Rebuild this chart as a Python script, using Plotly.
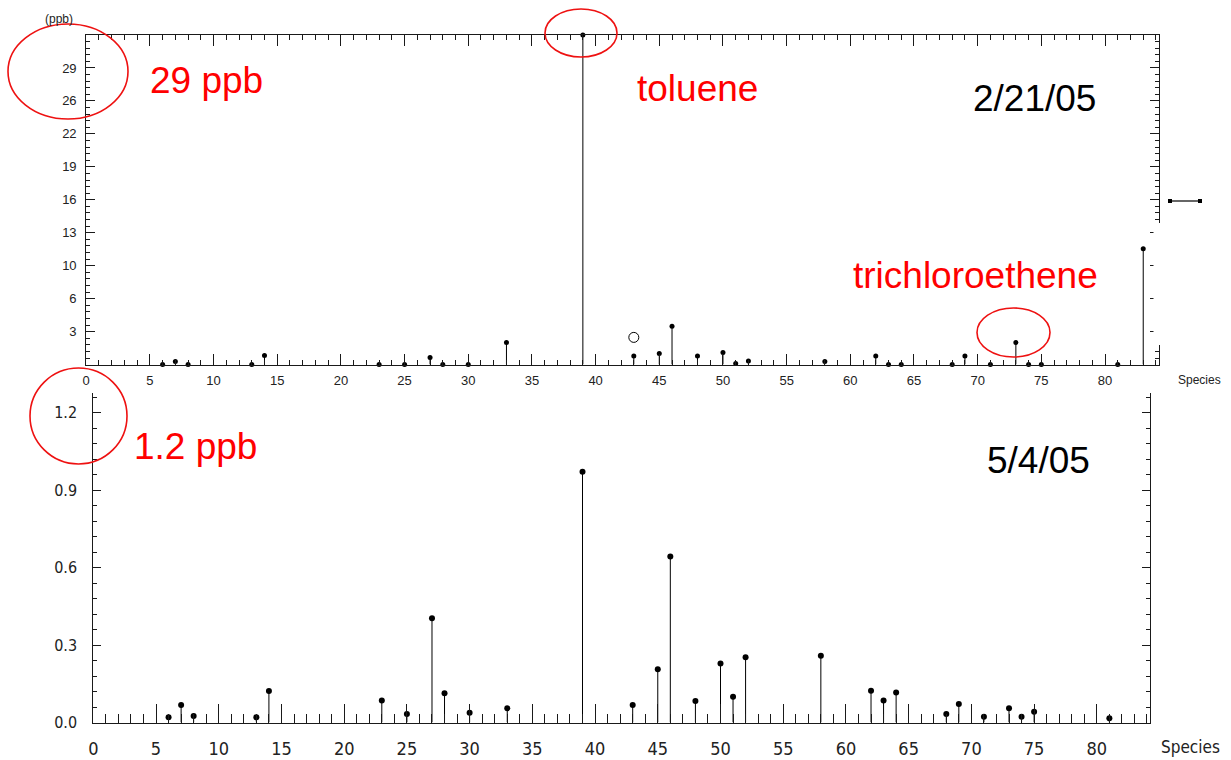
import plotly.graph_objects as go

# ---------------- data ----------------
top_species = [6, 7, 8, 13, 14, 23, 25, 27, 28, 30, 33, 39, 43, 45, 46, 48, 50, 51, 52,
               58, 62, 63, 64, 68, 69, 71, 73, 74, 75, 81, 83]
top_ppb = [0.0, 0.3, 0.0, 0.0, 0.9, 0.0, 0.0, 0.7, 0.0, 0.0, 2.2, 32.7, 0.85, 1.1, 3.8, 0.85, 1.2, 0.1, 0.35,
           0.3, 0.85, 0.0, 0.0, 0.0, 0.85, 0.0, 2.2, 0.0, 0.0, 0.0, 11.5]
top_open_species = [43]
top_open_ppb = [2.7]

bot_species = [6, 7, 8, 13, 14, 23, 25, 27, 28, 30, 33, 39, 43, 45, 46, 48, 50, 51, 52,
               58, 62, 63, 64, 68, 69, 71, 73, 74, 75, 81]
bot_ppb = [0.02, 0.068, 0.025, 0.02, 0.122, 0.085, 0.033, 0.404, 0.113, 0.038, 0.055, 0.972, 0.068, 0.206,
           0.643, 0.083, 0.229, 0.1, 0.253, 0.259, 0.123, 0.085, 0.116, 0.033, 0.072, 0.022, 0.055, 0.022,
           0.042, 0.016]

top_ytick_vals = [3.27, 6.54, 9.81, 13.08, 16.35, 19.62, 22.89, 26.16, 29.43]
top_ytick_text = ["3", "6", "10", "13", "16", "19", "22", "26", "29"]
bot_ytick_vals = [0.0, 0.3, 0.6, 0.9, 1.2]
bot_ytick_text = ["0.0", "0.3", "0.6", "0.9", "1.2"]

# ---------------- layout helpers ----------------
W, H = 1231, 760
def px(x):
    return x / W
def py(y):
    return 1 - y / H

AX = "#1a1a1a"
ARIAL = "Liberation Sans, Arial, sans-serif"
NARROW = "Liberation Sans Narrow, Arial Narrow, DejaVu Sans Condensed, sans-serif"

fig = go.Figure()

# top chart stems + markers
fig.add_trace(go.Scatter(
    x=top_species, y=top_ppb, mode="markers", xaxis="x", yaxis="y",
    marker=dict(symbol="circle", size=5, color="black"),
    error_y=dict(type="data", symmetric=False, array=[0] * len(top_ppb), arrayminus=top_ppb,
                 width=0, thickness=1, color="black"),
    showlegend=False, hoverinfo="x+y", cliponaxis=False))
fig.add_trace(go.Scatter(
    x=top_open_species, y=top_open_ppb, mode="markers", xaxis="x", yaxis="y",
    marker=dict(symbol="circle-open", size=10, color="black", line=dict(width=1)),
    showlegend=False))

# bottom chart stems + markers
fig.add_trace(go.Scatter(
    x=bot_species, y=bot_ppb, mode="markers", xaxis="x2", yaxis="y2",
    marker=dict(symbol="circle", size=6, color="black"),
    error_y=dict(type="data", symmetric=False, array=[0] * len(bot_ppb), arrayminus=bot_ppb,
                 width=0, thickness=1, color="black"),
    showlegend=False, cliponaxis=False))

common_x = dict(range=[0, 84.2], tickmode="linear", tick0=0, dtick=5, showgrid=False, zeroline=False,
                showline=True, linecolor=AX, linewidth=1, ticks="inside", tickcolor=AX, tickwidth=1,
                fixedrange=True, automargin=False)

fig.update_layout(
    width=W, height=H, margin=dict(l=0, r=0, t=0, b=0, pad=0, autoexpand=False),
    paper_bgcolor="white", plot_bgcolor="white",
    xaxis=dict(common_x, domain=[px(86.2), px(1158.5)], anchor="y", mirror="ticks", ticklen=11,
               minor=dict(dtick=1, tick0=0, ticklen=5, ticks="inside", tickcolor=AX),
               tickfont=dict(family=ARIAL, size=13, color="#222"), ticklabelstandoff=4),
    yaxis=dict(domain=[py(364.6), py(35)], anchor="x", range=[0, 32.7], tickmode="array",
               tickvals=top_ytick_vals, ticktext=top_ytick_text, showgrid=False, zeroline=False,
               showline=True, linecolor=AX, linewidth=1, mirror="ticks", ticks="inside", ticklen=9,
               tickcolor=AX, minor=dict(tickmode="linear", tick0=0, dtick=0.654, ticklen=4,
                                        ticks="inside", tickcolor=AX),
               tickfont=dict(family=ARIAL, size=13, color="#222"), ticklabelstandoff=6,
               fixedrange=True, automargin=False),
    xaxis2=dict(common_x, domain=[px(93.3), px(1149.5)], anchor="y2", mirror=False, ticklen=19,
                minor=dict(dtick=1, tick0=0, ticklen=9, ticks="inside", tickcolor=AX),
                tickfont=dict(family=NARROW, size=18, color="#222"), ticklabelstandoff=10),
    yaxis2=dict(domain=[py(722.5), py(393)], anchor="x2", range=[0, 1.277], tickmode="array",
                tickvals=bot_ytick_vals, ticktext=bot_ytick_text, showgrid=False, zeroline=False,
                showline=True, linecolor=AX, linewidth=1, mirror="ticks", ticks="inside", ticklen=8,
                tickcolor=AX, minor=dict(tickmode="linear", tick0=0, dtick=0.06, ticklen=4,
                                         ticks="inside", tickcolor=AX),
                tickfont=dict(family=NARROW, size=16, color="#222"), ticklabelstandoff=12,
                fixedrange=True, automargin=False),
)

annotations = [
    dict(text="(ppb)", x=px(59), y=py(19), font=dict(family=ARIAL, size=12, color="#222")),
    dict(text="Species", x=px(1199), y=py(380), font=dict(family=ARIAL, size=12, color="#222")),
    dict(text="Species", x=px(1190), y=py(747), font=dict(family=NARROW, size=17, color="#222")),
    dict(text="29 ppb", x=px(206), y=py(80), font=dict(family=ARIAL, size=37, color="#ff0000")),
    dict(text="toluene", x=px(697), y=py(88), font=dict(family=ARIAL, size=37, color="#ff0000")),
    dict(text="2/21/05", x=px(1034), y=py(98), font=dict(family=ARIAL, size=37, color="black")),
    dict(text="trichloroethene", x=px(975), y=py(275), font=dict(family=ARIAL, size=37, color="#ff0000")),
    dict(text="1.2 ppb", x=px(195), y=py(446), font=dict(family=ARIAL, size=37, color="#ff0000")),
    dict(text="5/4/05", x=px(1038), y=py(460), font=dict(family=ARIAL, size=37, color="black")),
]
for a in annotations:
    a.update(xref="paper", yref="paper", showarrow=False, xanchor="center", yanchor="middle")
fig.update_layout(annotations=annotations)

shapes = []
# overlay box covering part of right axis (screenshot artifact)
shapes.append(dict(type="rect", xref="paper", yref="paper", x0=px(1153.5), x1=px(1180), y0=py(345),
                   y1=py(223), fillcolor="white", line=dict(width=0), layer="above"))
# legend sample segment
shapes.append(dict(type="line", xref="paper", yref="paper", x0=px(1170), x1=px(1200), y0=py(201),
                   y1=py(201), line=dict(color="black", width=1.2), layer="above"))
for cx in (1170, 1200):
    shapes.append(dict(type="rect", xref="paper", yref="paper", x0=px(cx - 2), x1=px(cx + 2),
                       y0=py(203), y1=py(199), fillcolor="black", line=dict(width=0), layer="above"))
# red ellipses
for (x0, y0, x1, y1) in [(8, 24, 128, 119), (545, 9, 617, 57), (977, 308, 1050, 357), (30, 368, 127, 464)]:
    shapes.append(dict(type="circle", xref="paper", yref="paper", x0=px(x0), x1=px(x1), y0=py(y1),
                       y1=py(y0), line=dict(color="#ee1111", width=1.6), layer="above"))
fig.update_layout(shapes=shapes)

fig.write_html("out.html")
